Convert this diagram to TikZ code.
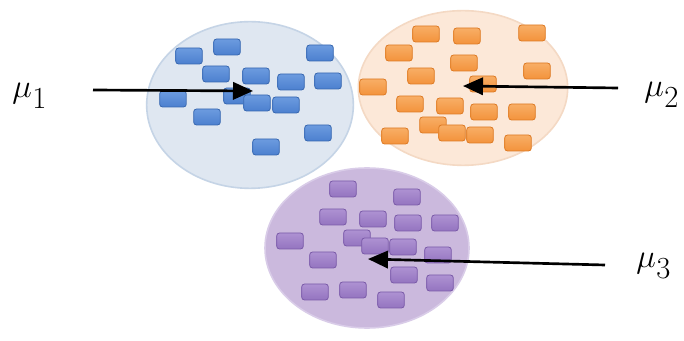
\documentclass[tikz,border=0pt]{standalone}
\usetikzlibrary{arrows.meta,shapes.geometric}
\definecolor{bluefill}{HTML}{4C80CF}
\definecolor{bluetop}{HTML}{6C9BDF}
\definecolor{blueedge}{HTML}{3767B0}
\definecolor{bluecloud}{HTML}{DFE7F1}
\definecolor{bluerim}{HTML}{C5D4E6}
\definecolor{orfill}{HTML}{F3933C}
\definecolor{ortop}{HTML}{F8AE66}
\definecolor{oredge}{HTML}{DD7A24}
\definecolor{orcloud}{HTML}{FCE8D8}
\definecolor{orrim}{HTML}{F4D9C4}
\definecolor{pufill}{HTML}{9474C0}
\definecolor{putop}{HTML}{AE92D2}
\definecolor{puedge}{HTML}{7A5AA8}
\definecolor{pucloud}{HTML}{CBB9DD}
\definecolor{purim}{HTML}{D9CCE8}
% a mean symbol with its large, lowered index
\newcommand{\meansym}[1]{\fontsize{26}{30}\selectfont$\mu$\kern0.5pt\raisebox{-8pt}{\fontsize{23}{23}\selectfont #1}}
\tikzset{
  px/.style={x=0.75pt,y=-0.75pt},
  cloud/.style={ellipse,inner sep=0pt,line width=1.2pt},
  chip/.style={rectangle,rounded corners=2.2pt,minimum width=20pt,minimum height=12pt,inner sep=0pt,line width=0.6pt},
  bchip/.style={chip,draw=blueedge,top color=bluetop,bottom color=bluefill},
  ochip/.style={chip,draw=oredge,top color=ortop,bottom color=orfill},
  pchip/.style={chip,draw=puedge,top color=putop,bottom color=pufill},
  pointer/.style={line width=2pt,-{Triangle[length=15pt,width=13pt]}},
  meanlabel/.style={inner sep=0pt,anchor=base west}
}
\begin{document}
\begin{tikzpicture}[px]
\useasboundingbox (0,0) rectangle (684,341);
\fill[white] (0,0) rectangle (684,341);

% cluster regions
\node[cloud,fill=pucloud,draw=purim,minimum width=153pt,minimum height=120pt] (c3) at (367,248) {};
\node[cloud,fill=bluecloud,draw=bluerim,minimum width=155pt,minimum height=125pt] (c1) at (250,105) {};
\node[cloud,fill=orcloud,draw=orrim,minimum width=157pt,minimum height=116pt] (c2) at (463,88) {};

% cluster 1 members
\foreach \n/\x/\y in {1/189/56,2/227/47,3/320/53,4/216/74,5/256/76,6/291/82,7/328/81,
  8/173/99,9/237/96,10/257/103,11/286/105,12/207/117,13/318/133,14/266/147}
  \node[bchip] (b\n) at (\x,\y) {};

% cluster 2 members
\foreach \n/\x/\y in {1/426/34,2/467/36,3/532/33,4/399/53,5/464/63,6/537/71,7/421/76,
  8/373/87,9/483/84,10/410/104,11/450/106,12/484/112,13/522/112,14/433/125,
  15/395/136,16/452/133,17/480/135,18/518/143}
  \node[ochip] (o\n) at (\x,\y) {};

% cluster 3 members
\foreach \n/\x/\y in {1/343/189,2/407/197,3/333/217,4/373/219,5/408/223,6/445/223,
  7/290/241,8/357/238,9/375/246,10/403/247,11/438/255,12/323/260,13/404/275,
  14/440/283,15/315/292,16/353/290,17/391/300}
  \node[pchip] (p\n) at (\x,\y) {};

% means and their labels
\coordinate (m1) at (253,91);
\coordinate (m2) at (463,86);
\coordinate (m3) at (368,259);
\coordinate (s1) at (93,90);
\coordinate (s2) at (618,88);
\coordinate (s3) at (605,265);
\node[meanlabel] (l1) at (12,98) {\meansym{1}};
\node[meanlabel] (l2) at (644,97) {\meansym{2}};
\node[meanlabel] (l3) at (636,268) {\meansym{3}};

\draw[pointer] (s1) -- (m1);
\draw[pointer] (s2) -- (m2);
\draw[pointer] (s3) -- (m3);
\end{tikzpicture}
\end{document}
